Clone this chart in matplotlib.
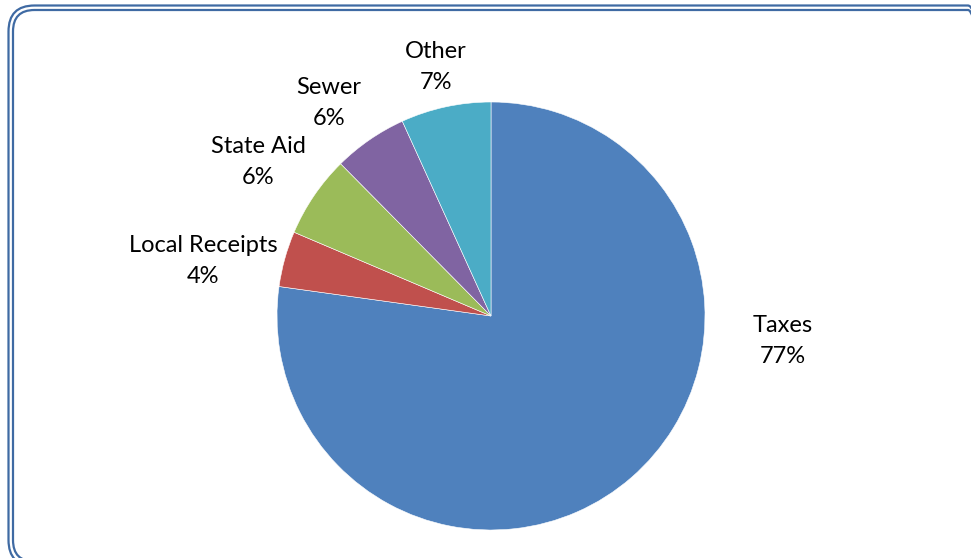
import matplotlib.pyplot as plt
from matplotlib.patches import FancyBboxPatch

# revenue shares (percent)
categories = ['Taxes', 'Local Receipts', 'State Aid', 'Sewer', 'Other']
shares = [77.2, 4.2, 6.2, 5.6, 6.8]
colors = ['#4F81BD', '#C0504D', '#9BBB59', '#8064A2', '#4BACC6']

# label anchor points in pixels (x, y from top), as placed in the original
label_pos = [(783, 341), (203, 261), (258, 162), (329, 103), (436, 67)]

W, H = 971, 558
fig = plt.figure(figsize=(W / 100, H / 100), dpi=100)
ax = fig.add_axes([0, 0, 1, 1])

ax.pie(shares, colors=colors, startangle=90, counterclock=False,
       center=(491, H - 316), radius=214,
       wedgeprops=dict(edgecolor='white', linewidth=0.4))
ax.set_xlim(0, W)
ax.set_ylim(0, H)
ax.set_aspect('equal')
ax.axis('off')

total = sum(shares)
for name, val, (x, y) in zip(categories, shares, label_pos):
    ax.text(x, H - y, f'{name}\n{val / total * 100:.0f}%', ha='center', va='center',
            fontsize=17, family='Lato', color='black', linespacing=1.6)

# double rounded frame, cut off at right and bottom like the original
left, top, right, bottom = 8.5, 5.5, 994, 566
for off in (0, 4.5):
    box = FancyBboxPatch((left + off, H - bottom + off),
                         right - left - 2 * off, bottom - top - 2 * off,
                         boxstyle='round,pad=0,rounding_size=%g' % (26 - off),
                         fill=False, edgecolor='#3F6AA3', linewidth=1.6)
    ax.add_patch(box)

fig.savefig('out.png', dpi=100)
